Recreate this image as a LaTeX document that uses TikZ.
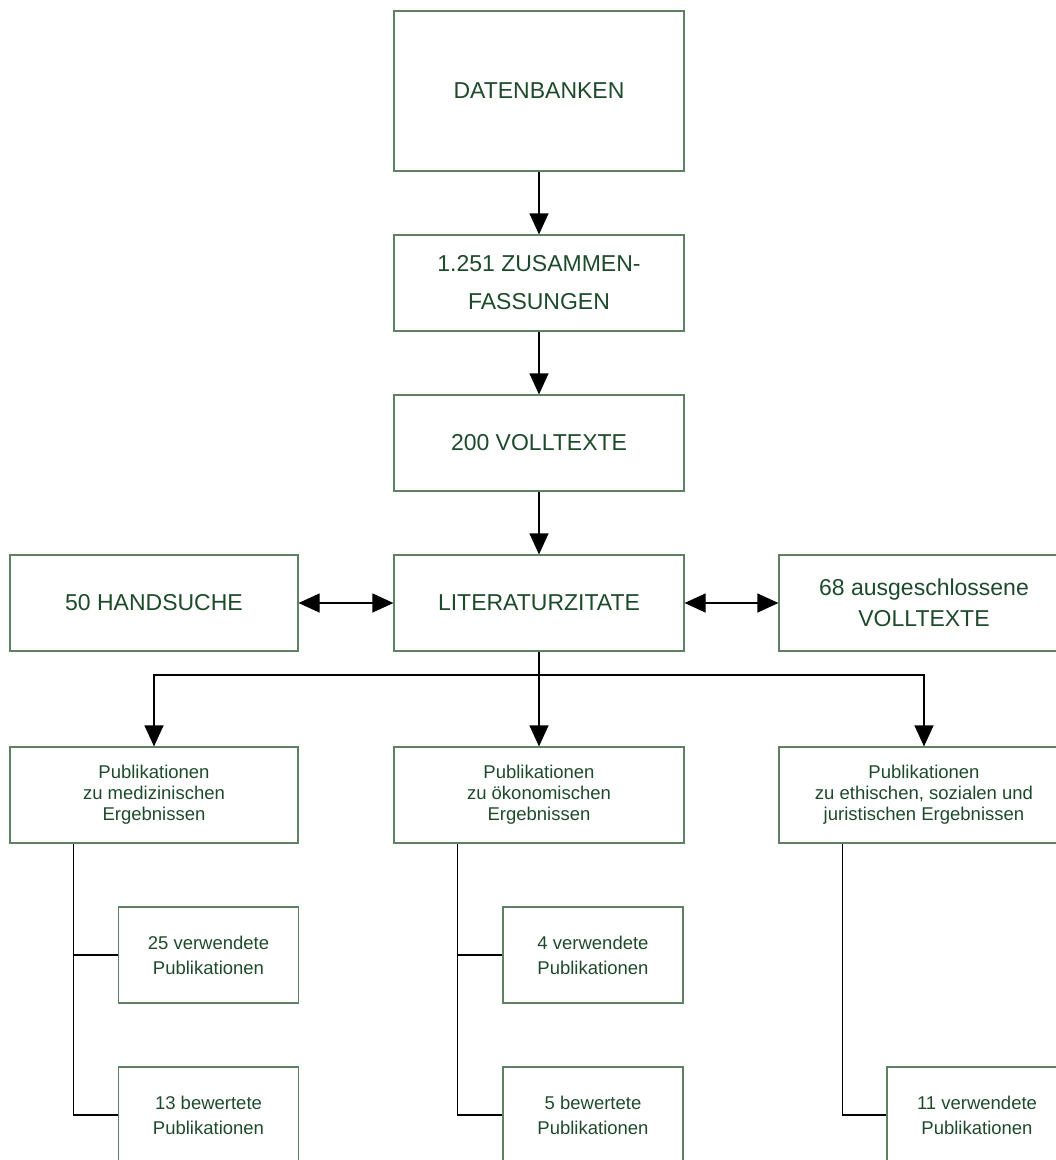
\documentclass[tikz,border=0pt]{standalone}
\usepackage{fontspec}
\setmainfont{Liberation Sans}
\usepackage{tikz}
\usetikzlibrary{positioning, arrows.meta, calc}

\definecolor{boxgreen}{RGB}{96,128,100}
\definecolor{textgreen}{RGB}{30,74,44}

\begin{document}
\begin{tikzpicture}[x=1pt, y=-1pt,
  box/.style={draw=boxgreen, line width=1.2pt, text=textgreen, align=center,
    inner sep=0pt, minimum width=290pt, minimum height=96pt,
    font=\fontsize{23}{31}\selectfont},
  pub/.style={box, font=\fontsize{18.5}{21}\selectfont},
  subbox/.style={box, minimum width=180pt, font=\fontsize{18.5}{25}\selectfont},
  pfeil/.style={-{Triangle[length=21pt,width=19pt]}, line width=1.2pt},
  dpfeil/.style={{Triangle[length=21pt,width=19pt]}-{Triangle[length=21pt,width=19pt]}, line width=1.2pt},
  linie/.style={line width=1.2pt}]

  \clip (0,0) rectangle (1056,1160);

  % --- Hauptkette ---
  \node[box, minimum height=160pt] (db) at (539,91) {DATENBANKEN};
  \node[box, font=\fontsize{23}{38}\selectfont] (zf) at (539,283)
    {1.251 ZUSAMMEN-\\FASSUNGEN};
  \node[box] (vt) at (539,443) {200 VOLLTEXTE};
  \node[box] (lit) at (539,603) {LITERATURZITATE};

  % --- Seitenkaesten ---
  \node[box, minimum width=288pt] (hs) at (154,603) {50 HANDSUCHE};
  \node[box] (av) at (924,603) {68 ausgeschlossene\\VOLLTEXTE};

  % --- Publikationen ---
  \node[pub, minimum width=288pt] (p1) at (154,795)
    {Publikationen\\zu medizinischen\\Ergebnissen};
  \node[pub] (p2) at (539,795)
    {Publikationen\\zu ökonomischen\\Ergebnissen};
  \node[pub] (p3) at (924,795)
    {Publikationen\\zu ethischen, sozialen und\\juristischen Ergebnissen};

  % --- Unterkaesten ---
  \node[subbox] (s11) at (208.5,955) {25 verwendete\\Publikationen};
  \node[subbox] (s12) at (208.5,1115) {13 bewertete\\Publikationen};
  \node[subbox] (s21) at (593,955) {4 verwendete\\Publikationen};
  \node[subbox] (s22) at (593,1115) {5 bewertete\\Publikationen};
  \node[subbox] (s31) at (977,1115) {11 verwendete\\Publikationen};

  % --- Pfeile ---
  \draw[pfeil] (db) -- (zf);
  \draw[pfeil] (zf) -- (vt);
  \draw[pfeil] (vt) -- (lit);
  \draw[dpfeil] (hs) -- (lit);
  \draw[dpfeil] (lit) -- (av);

  \coordinate (split) at (539,675);
  \draw[pfeil] (lit) -- (p2);
  \draw[pfeil] (split) -| (p1.north);
  \draw[pfeil] (split) -| (p3.north);

  % --- Verzweigungen ---
  \coordinate (b1) at ([xshift=64pt]p1.south west);
  \coordinate (b2) at ([xshift=64pt]p2.south west);
  \coordinate (b3) at ([xshift=64pt]p3.south west);
  \draw[linie] (b1) |- (s12.west);
  \draw[linie] (b1 |- s11.west) -- (s11.west);
  \draw[linie] (b2) |- (s22.west);
  \draw[linie] (b2 |- s21.west) -- (s21.west);
  \draw[linie] (b3) |- (s31.west);

\end{tikzpicture}
\end{document}
